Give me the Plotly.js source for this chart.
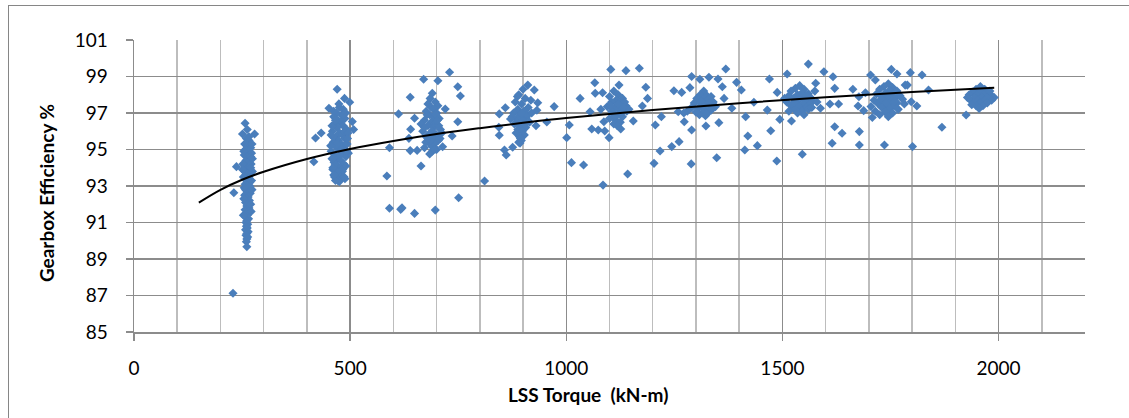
<!DOCTYPE html>
<html>
<head>
<meta charset="utf-8">
<script src="https://cdn.plot.ly/plotly-3.0.1.min.js"></script>
<style>
html,body{margin:0;padding:0;background:#fff;overflow:hidden;}
#chart{position:absolute;left:0;top:0;width:1129px;height:418px;}
#frame{position:absolute;left:8px;top:5px;width:1300px;height:600px;border:1px solid #868686;pointer-events:none;box-sizing:border-box;}
</style>
</head>
<body>
<div id="chart"></div>
<div id="frame"></div>
<script>
// ---- data: LSS torque (kN-m) vs gearbox efficiency (%) ----
const torque250 = [257,262,251,279,260,266,256,263,270,258,265,272,255,261,268,259,264,271,257,262,237,267,256,263,269,259,265,260,268,257,263,266,258,262,231,269,256,264,260,267,258,263,261,266,257,264,260,262,258,265,261,259,263,260,262,258,264,261,259,263,261,260,261,229,270,268,255,272,270,254,266,274,253,273,252,274,251,273,254,271,253,270];
const eff250    = [96.44,96.1,95.85,95.85,95.6,95.5,95.3,95.2,95.1,95.0,94.9,94.8,94.7,94.6,94.5,94.4,94.3,94.2,94.1,94.0,94.06,93.9,93.8,93.7,93.6,93.5,93.4,93.3,93.2,93.1,93.0,92.9,92.8,92.7,92.63,92.6,92.5,92.4,92.3,92.2,92.1,92.0,91.9,91.8,91.7,91.6,91.5,91.4,91.3,91.2,91.1,91.0,90.9,90.8,90.7,90.6,90.5,90.4,90.3,90.2,90.1,89.95,89.67,87.12,94.6,93.0,92.9,93.3,92.0,94.9,95.7,94.5,93.5,92.8,94.2,93.8,93.9,95.3,92.3,91.6,91.4,94.0];

const torque480 = [470,487,499,451,484,505,508,420,433,416,475,468,480,462,488,472,478,465,484,470,492,459,476,482,467,488,473,461,479,485,469,475,456,482,466,490,472,478,463,485,470,476,460,482,468,474,464,479,471,475,486,466,480,460,493,458,487,470,477,465,483,490,462,474,495,455,496,470,458,492,462,488,456,494,466,484,460,490];
const eff480    = [98.3,97.8,97.59,97.26,97.2,96.53,96.1,95.63,95.9,94.33,97.3,97.0,96.9,96.8,96.7,96.6,96.5,96.4,96.3,96.2,96.1,96.0,95.9,95.8,95.7,95.6,95.5,95.4,95.3,95.2,95.1,95.0,94.9,94.8,94.7,94.6,94.5,94.4,94.3,94.2,94.1,94.0,93.9,93.8,93.7,93.6,93.5,93.4,93.3,93.24,93.5,93.3,95.0,95.7,95.3,96.3,96.0,95.3,94.7,94.2,93.9,97.0,97.1,97.5,95.9,95.2,94.8,93.8,94.5,94.9,93.6,93.4,95.8,95.6,96.6,96.9,94.0,94.1];

const torque700 = [690,685,697,680,703,688,694,676,700,684,692,706,672,688,697,680,693,709,668,685,700,676,692,704,682,695,688,672,700,690,684,712,664,698,678,690,686,696,705,675,670,703,730,749,755,639,612,649,640,636,591,639,664,585,591,617,620,649,697,751,749,736,714,720,655,680,702,672,708];
const eff700    = [98.08,97.8,97.6,97.5,97.4,97.3,97.2,97.1,97.0,96.9,96.8,96.7,96.6,96.5,96.4,96.3,96.2,96.1,96.0,95.9,95.8,95.7,95.6,95.5,95.4,95.3,95.2,95.1,95.0,94.9,94.75,95.9,96.4,96.9,96.9,96.0,95.5,95.0,96.3,95.4,98.85,98.77,99.23,98.44,97.93,97.86,96.95,96.71,96.11,95.61,95.1,94.94,94.1,93.55,91.78,91.72,91.8,91.5,91.68,92.36,96.52,95.74,95.15,97.22,94.95,95.6,96.6,96.2,95.6];

const torque900 = [900,890,905,882,897,912,888,902,878,894,908,885,899,915,880,893,906,888,898,884,903,892,896,890,894,910,875,920,887,898,893,911,926,934,932,972,955,845,859,844,845,871,857,861,876,811,930,885,905,918];
const eff900    = [98.3,98.0,97.8,97.6,97.5,97.3,97.2,97.1,97.0,96.9,96.8,96.7,96.6,96.5,96.4,96.3,96.2,96.1,96.0,95.9,95.8,95.7,95.5,95.4,95.6,96.9,96.8,97.0,97.9,97.0,95.35,98.53,98.26,97.56,97.15,97.35,96.51,96.95,97.29,96.22,95.78,96.67,94.97,94.7,95.12,93.27,96.3,96.5,96.4,97.7];

const torque1100 = [1110,1120,1100,1130,1115,1105,1125,1138,1095,1112,1122,1140,1108,1118,1130,1100,1115,1125,1110,1118,1135,1145,1105,1128,1112,1103,1138,1066,1067,1084,1032,1122,1055,1080,1059,1074,1089,1099,1126,1087,1007,1001,1012,1040,1085,1142,1169,1184,1188,1176,1155,1206,1220,1217,1203,1244,1261,1249,1267,1259,1273,1286,1290,1290,1289,1102,1132,1120];
const eff1100    = [98.2,98.0,97.9,97.8,97.7,97.6,97.5,97.4,97.35,97.3,97.2,97.1,97.0,96.9,96.8,96.7,96.6,96.5,96.4,96.3,97.6,97.2,97.1,97.0,96.8,99.39,99.32,98.66,98.08,98.11,97.8,98.53,97.07,97.2,96.12,96.07,96.01,95.65,96.12,96.52,96.34,95.65,94.28,94.15,93.05,93.66,99.45,98.41,97.8,97.38,96.56,96.34,96.8,94.92,94.24,95.16,95.43,98.22,98.13,97.07,96.52,98.39,99.0,96.07,94.21,97.4,97.3,97.5];

const torque1300 = [1318,1310,1325,1335,1302,1318,1328,1340,1296,1312,1322,1332,1345,1290,1305,1318,1328,1315,1308,1322,1300,1335,1325,1280,1272,1309,1330,1351,1369,1361,1365,1383,1353,1323,1348,1394,1405,1434,1415,1420,1413,1442,1470,1488,1465,1473,1487,1494,1312,1330];
const eff1300    = [98.2,98.0,97.95,97.9,97.8,97.75,97.7,97.6,97.55,97.5,97.45,97.4,97.35,97.3,97.25,97.2,97.1,97.0,96.9,96.85,97.05,97.15,96.95,97.1,97.0,98.85,98.96,98.86,99.41,98.44,97.8,97.26,96.47,96.29,94.55,98.68,98.26,97.59,96.8,95.74,94.97,95.21,98.86,98.13,97.16,96.03,94.37,96.65,97.65,97.55];

const torque1550 = [1540,1530,1550,1520,1545,1560,1535,1515,1550,1565,1525,1540,1555,1570,1510,1532,1548,1562,1520,1540,1555,1528,1545,1535,1550,1575,1505,1580,1515,1560,1560,1596,1617,1621,1577,1610,1630,1588,1521,1621,1638,1615,1546,1511,1663,1677,1675,1678,1678,1688,1692,1528,1555,1568];
const eff1550    = [98.5,98.35,98.3,98.2,98.1,98.05,98.0,97.95,97.9,97.85,97.8,97.75,97.7,97.65,97.6,97.55,97.5,97.45,97.4,97.35,97.3,97.2,97.1,97.0,96.9,98.2,97.8,97.6,97.1,97.2,99.68,99.26,98.99,98.35,98.63,97.49,97.49,97.26,96.56,96.25,95.89,95.34,94.74,99.14,98.3,97.89,97.38,95.98,95.25,97.13,98.11,97.6,97.95,97.3];

const torque1750 = [1745,1735,1755,1725,1748,1765,1738,1718,1755,1772,1730,1745,1760,1778,1712,1735,1750,1765,1722,1742,1758,1705,1730,1748,1768,1715,1738,1755,1725,1745,1708,1782,1704,1715,1736,1752,1765,1796,1823,1784,1789,1801,1811,1798,1838,1869,1925,1740,1760,1728];
const eff1750    = [98.6,98.45,98.4,98.3,98.25,98.2,98.1,98.05,98.0,97.95,97.9,97.85,97.8,97.75,97.7,97.65,97.6,97.55,97.5,97.45,97.4,97.35,97.3,97.25,97.2,97.1,97.05,97.0,96.9,96.8,96.75,97.5,99.08,98.81,95.25,99.39,99.14,99.21,99.08,98.53,98.53,95.16,97.38,97.62,98.26,96.22,96.89,97.55,97.65,97.75];

const torque1950 = [1958,1948,1968,1940,1958,1975,1932,1950,1966,1982,1928,1945,1960,1975,1990,1935,1952,1968,1984,1942,1958,1974,1948,1964,1955,1938,1980];
const eff1950    = [98.45,98.3,98.3,98.15,98.15,98.15,98.0,98.0,98.0,98.0,97.85,97.85,97.85,97.85,97.85,97.7,97.7,97.7,97.7,97.55,97.55,97.55,97.4,97.4,97.25,97.45,98.2];

// logarithmic trendline
const trendTorque = [150,200,250,300,400,500,600,700,800,900,1000,1200,1400,1600,1800,1990];
const trendEff    = [92.09,92.79,93.34,93.78,94.48,95.03,95.47,95.85,96.17,96.46,96.72,97.16,97.54,97.86,98.15,98.39];

// axis settings
const xTicks = [0,500,1000,1500,2000];
const yTicks = [85,87,89,91,93,95,97,99,101];

const allX = [].concat(torque250,torque480,torque700,torque900,torque1100,torque1300,torque1550,torque1750,torque1950);
const allY = [].concat(eff250,eff480,eff700,eff900,eff1100,eff1300,eff1550,eff1750,eff1950);

const FONT = 'Lato, "Open Sans", "DejaVu Sans", sans-serif';

const traces = [
  {
    type:'scatter', mode:'markers', x:allX, y:allY,
    marker:{symbol:'diamond', size:7, color:'#4A7EBB', line:{width:0}},
    hoverinfo:'x+y', showlegend:false
  },
  {
    type:'scatter', mode:'lines', x:trendTorque, y:trendEff,
    line:{color:'#000000', width:2, shape:'spline'},
    hoverinfo:'skip', showlegend:false
  }
];

const layout = {
  width:1129, height:418,
  margin:{l:134, r:44, t:40, b:86, pad:0},
  paper_bgcolor:'rgba(0,0,0,0)', plot_bgcolor:'#ffffff',
  font:{family:FONT, size:19, color:'#000'},
  showlegend:false,
  xaxis:{
    range:[0,2200], tickmode:'array', tickvals:xTicks, ticktext:xTicks.map(String),
    showgrid:true, gridcolor:'#8C8C8C', gridwidth:1.5,
    minor:{dtick:100, tick0:0, showgrid:true, gridcolor:'#BDBDBD', gridwidth:1.5, ticks:''},
    ticks:'outside', ticklen:7, tickwidth:1.5, tickcolor:'#8C8C8C',
    showline:true, linecolor:'#8C8C8C', linewidth:1.5, mirror:false,
    zeroline:false, ticklabelstandoff:12,
    tickfont:{family:FONT, size:19, color:'#000'}
  },
  yaxis:{
    range:[85,101], tickmode:'array', tickvals:yTicks, ticktext:yTicks.map(String),
    showgrid:true, gridcolor:'#8C8C8C', gridwidth:1.5,
    ticks:'outside', ticklen:7, tickwidth:1.5, tickcolor:'#8C8C8C',
    showline:true, linecolor:'#8C8C8C', linewidth:1.5,
    zeroline:false, ticklabelstandoff:14,
    tickfont:{family:FONT, size:19, color:'#000'}
  },
  annotations:[
    {text:'<b>LSS Torque  (kN-m)</b>', xref:'paper', yref:'paper', x:0.477, y:-0.215,
     xanchor:'center', yanchor:'middle', showarrow:false, font:{family:FONT, size:19, color:'#000'}},
    {text:'<b>Gearbox Efficiency %</b>', xref:'paper', yref:'paper', x:-0.092, y:0.474,
     xanchor:'center', yanchor:'middle', textangle:-90, showarrow:false, font:{family:FONT, size:19, color:'#000'}}
  ]
};

Plotly.newPlot('chart', traces, layout, {displayModeBar:false, staticPlot:true});
</script>
</body>
</html>
